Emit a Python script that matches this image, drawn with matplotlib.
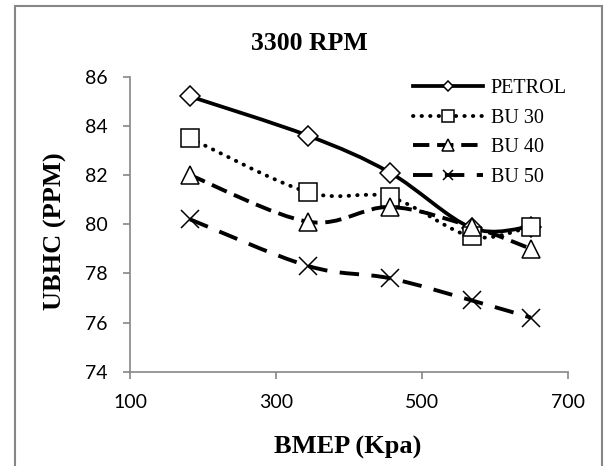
'''
UBHC emissions vs BMEP at 3300 RPM, petrol and butanol blends
'''
import matplotlib
matplotlib.use("Agg")
import matplotlib.pyplot as plt
from matplotlib.path import Path
from matplotlib.patches import PathPatch, Rectangle
from matplotlib.lines import Line2D

bmep = [182, 344, 456, 568, 649]  # Kpa
petrol = [85.2, 83.6, 82.1, 79.85, 79.9]
bu30 = [83.5, 81.3, 81.1, 79.5, 79.9]
bu40 = [82.0, 80.1, 80.7, 79.9, 79.0]
bu50 = [80.2, 78.3, 77.8, 76.9, 76.2]
names = ["PETROL", "BU 30", "BU 40", "BU 50"]

xticks = [100, 300, 500, 700]
yticks = [74, 76, 78, 80, 82, 84, 86]

GREY = "#868686"
SERIF = "Liberation Serif"
SANS = "Lato"


def smooth_path(xs, ys):
    # bezier segments through the points (catmull-rom style control points)
    pts = list(zip(xs, ys))
    n = len(pts)
    verts = [pts[0]]
    codes = [Path.MOVETO]
    for i in range(n - 1):
        p0 = pts[max(i - 1, 0)]
        p1 = pts[i]
        p2 = pts[i + 1]
        p3 = pts[min(i + 2, n - 1)]
        c1 = (p1[0] + (p2[0] - p0[0]) / 6, p1[1] + (p2[1] - p0[1]) / 6)
        c2 = (p2[0] - (p3[0] - p1[0]) / 6, p2[1] - (p3[1] - p1[1]) / 6)
        verts += [c1, c2, p2]
        codes += [Path.CURVE4] * 3
    return Path(verts, codes)


fig = plt.figure(figsize=(6.04, 4.66), dpi=100)
ax = fig.add_axes([130 / 604, 1 - 371.7 / 466, 438 / 604, 295 / 466])

styles = [
    dict(ls="-", lw=2.7, marker="D", ms=10, cap="butt"),
    dict(ls=(0, (0.1, 2.1)), lw=2.8, marker="s", ms=13.5, cap="round"),
    dict(ls=(0, (4.2, 2.0)), lw=2.8, marker="^", ms=13.5, cap="butt"),
    dict(ls=(0, (5.0, 3.2)), lw=2.8, marker="x", ms=13, cap="butt"),
]
legend_ms = [5.5, 8, 8, 7.5]

handles = []
for ys, st, lms in zip([petrol, bu30, bu40, bu50], styles, legend_ms):
    ax.add_patch(PathPatch(smooth_path(bmep, ys), fill=False, edgecolor="black",
                           linestyle=st["ls"], lw=st["lw"], capstyle=st["cap"], zorder=2))
    ax.plot(bmep, ys, ls="none", marker=st["marker"], ms=st["ms"], mew=1.1,
            mfc="white", mec="black", zorder=3)
    handles.append(Line2D([], [], color="black", ls=st["ls"], lw=st["lw"],
                          marker=st["marker"], ms=lms, mew=1.1, mfc="white", mec="black",
                          dash_capstyle=st["cap"]))

ax.set_xlim(100, 700)
ax.set_ylim(74, 86)
ax.set_xticks(xticks)
ax.set_yticks(yticks)
ax.set_xticklabels([str(v) for v in xticks], fontfamily=SANS, fontsize=14)
ax.set_yticklabels([str(v) for v in yticks], fontfamily=SANS, fontsize=14)
ax.tick_params(direction="out", length=5, width=1.2, color=GREY, pad=11)
for s in ["top", "right"]:
    ax.spines[s].set_visible(False)
for s in ["left", "bottom"]:
    ax.spines[s].set_color(GREY)
    ax.spines[s].set_linewidth(1.2)

fig.legend(handles, names, loc="upper left", bbox_to_anchor=(413 / 604, 1 - 79 / 466),
           frameon=False, borderpad=0, borderaxespad=0, handlelength=3.5,
           handletextpad=0.35, labelspacing=0.52,
           prop=dict(family=SERIF, size=14.5))

fig.text(309 / 604, 1 - 43 / 466, "3300 RPM", ha="center", va="center",
         fontfamily=SERIF, fontweight="bold", fontsize=18.5)
fig.text(55 / 604, 1 - 231 / 466, "UBHC (PPM)", ha="center", va="center", rotation=90,
         fontfamily=SERIF, fontweight="bold", fontsize=19)
fig.text(348 / 604, 1 - 447 / 466, "BMEP (Kpa)", ha="center", va="center",
         fontfamily=SERIF, fontweight="bold", fontsize=19)

# outer chart frame
fig.patches.append(Rectangle((15 / 604, -0.02), 587 / 604, 1.02 - 6.5 / 466,
                             transform=fig.transFigure, fill=False,
                             edgecolor=GREY, lw=1.5))

fig.savefig("out.png", dpi=100)
